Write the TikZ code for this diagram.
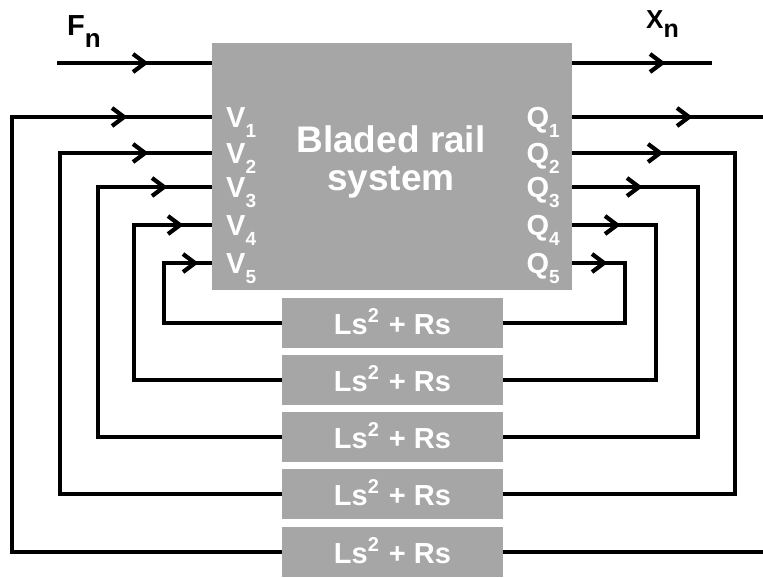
\documentclass[tikz,border=0pt]{standalone}
\usepackage{fontspec}
\setmainfont{Liberation Sans}
\usetikzlibrary{arrows.meta}
\definecolor{boxgray}{HTML}{A6A6A6}
\newcommand\lowsub[1]{\raisebox{-10pt}{\fontsize{19pt}{19pt}\selectfont #1}}
\newcommand\sqr{\raisebox{12pt}{\fontsize{20pt}{20pt}\selectfont 2}}
\begin{document}
\begin{tikzpicture}[x=1pt,y=-1pt,
  wire/.style={line width=3.2pt},
  chev/.pic={\draw[line width=4.2pt,line join=miter,line cap=butt] (-15,-9) -- (-3,0) -- (-15,9);},
  graybox/.style={fill=boxgray,draw=none,inner sep=0pt},
  lab/.style={text=white,font=\fontsize{29pt}{29pt}\selectfont\bfseries,inner sep=0pt},
  lsbox/.style={graybox,minimum width=221pt,minimum height=50pt,text=white,
    font=\fontsize{29pt}{29pt}\selectfont\bfseries,text height=22pt,text depth=0pt},
  sig/.style={font=\bfseries,inner sep=0pt}]
\useasboundingbox (0,0) rectangle (763,578);
% main block
\node[graybox,minimum width=360pt,minimum height=247pt,anchor=north west] (sys) at (212,43) {};
\node[lab,font=\fontsize{37pt}{37pt}\selectfont\bfseries,anchor=base] (t1) at (391,152) {Bladed rail};
\node[lab,font=\fontsize{37pt}{37pt}\selectfont\bfseries,anchor=base] (t2) at (391,190) {system};
% signal labels
\node[sig,anchor=base west] (fl) at (67,36) {\fontsize{29pt}{29pt}\selectfont F\raisebox{-12pt}{\fontsize{26pt}{26pt}\selectfont n}};
\node[sig,anchor=base west] (xl) at (646,29) {\fontsize{26pt}{26pt}\selectfont X\raisebox{-9pt}{\fontsize{25pt}{25pt}\selectfont n}};
% input / output
\coordinate (fin) at (57,63);
\coordinate (xout) at (712,63);
\draw[wire] (fin) -- (fin -| sys.west);
\pic at (148,63) {chev};
\draw[wire] (fin -| sys.east) -- (xout);
\pic at (665,63) {chev};
% feedback boxes and ports
\foreach \i/\yy/\by in {1/117/552,2/153/494,3/187/437,4/225/380,5/263/323}{
  \coordinate (ly\i) at (0,\yy);
  \coordinate (v\i) at (sys.west |- ly\i);
  \coordinate (q\i) at (sys.east |- ly\i);
  \node[lsbox] (b\i) at (392.5,\by) {Ls\sqr{}\hspace{2pt} + Rs};
  \node[lab,anchor=base west] (lv\i) at (226,\yy+10) {V\lowsub{\i}};
  \node[lab,anchor=base east] (lq\i) at (560,\yy+10) {Q\lowsub{\i}};
}
% left loops
\foreach \i/\lx/\la in {1/12/127,2/60/148,3/98/167,4/134/183,5/164/198}{
  \draw[wire] (b\i.west) -| (\lx,0 |- ly\i) -- (v\i);
  \pic at (\la,0 |- ly\i) {chev};
}
% right loops
\foreach \i/\rx/\ra in {2/735/663,3/698/642,4/656/620,5/625/607}{
  \draw[wire] (q\i) -- (\rx,0 |- ly\i) |- (b\i.east);
  \pic at (\ra,0 |- ly\i) {chev};
}
\coordinate (r1) at (763,117);
\coordinate (r1b) at (763,552);
\draw[wire] (q1) -- (r1);
\pic at (692,117) {chev};
\draw[wire] (b1.east) -- (r1b);
\end{tikzpicture}
\end{document}
